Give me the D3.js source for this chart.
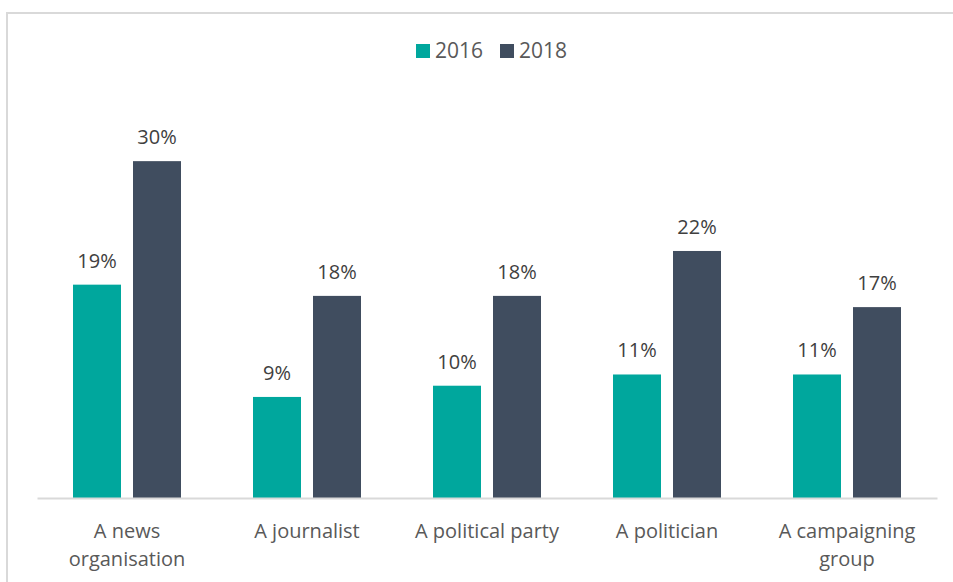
<!DOCTYPE html>
<html>
<head>
<meta charset="utf-8">
<script src="https://cdn.jsdelivr.net/npm/d3@7"></script>
<style>
  html, body { margin: 0; padding: 0; background: #fff; }
  svg { display: block; font-family: "Open Sans", "Liberation Sans", sans-serif; }
</style>
</head>
<body>
<svg id="chart" width="953" height="582"></svg>
<script>
// Chart data
const categories = [["A news", "organisation"], ["A journalist"], ["A political party"], ["A politician"], ["A campaigning", "group"]];
const seriesNames = ["2016", "2018"];
const values2016 = [19, 9, 10, 11, 11];
const values2018 = [30, 18, 18, 22, 17];
const colors = ["#00A79D", "#404D5F"];

const svg = d3.select("#chart");
const W = 953, H = 582;
const margin = { left: 37, right: 16, top: 105, baseline: 498 };

// Outer frame (left and top edges visible)
svg.append("path")
  .attr("d", `M7,${H} L7,13 L${W},13`)
  .attr("fill", "none").attr("stroke", "#d9d9d9").attr("stroke-width", 2);

const x0 = d3.scaleBand()
  .domain(d3.range(categories.length))
  .range([margin.left, W - margin.right]);
const x1 = d3.scaleBand()
  .domain(seriesNames)
  .range([0, x0.bandwidth()])
  .paddingInner(0.2)
  .paddingOuter(0.6);
const y = d3.scaleLinear().domain([0, 35]).range([margin.baseline, margin.top]);

const series = [values2016, values2018];

const groups = svg.append("g").selectAll("g")
  .data(categories.map((c, i) => ({ i, vals: series.map((s, k) => ({ name: seriesNames[k], v: s[i], k })) })))
  .join("g")
  .attr("transform", d => `translate(${x0(d.i)},0)`);

groups.selectAll("rect")
  .data(d => d.vals)
  .join("rect")
  .attr("x", d => x1(d.name))
  .attr("width", x1.bandwidth())
  .attr("y", d => y(d.v))
  .attr("height", d => y(0) - y(d.v))
  .attr("fill", d => colors[d.k]);

groups.selectAll("text.val")
  .data(d => d.vals)
  .join("text")
  .attr("class", "val")
  .attr("x", d => x1(d.name) + x1.bandwidth() / 2)
  .attr("y", d => y(d.v) - 17)
  .attr("text-anchor", "middle")
  .attr("font-size", 20)
  .attr("fill", "#404040")
  .text(d => d.v + "%");

// Baseline axis
const axis = svg.append("g")
  .attr("transform", `translate(0,${margin.baseline})`)
  .call(d3.axisBottom(x0).tickSize(0).tickFormat(""));
axis.select(".domain").attr("stroke", "#d9d9d9").attr("stroke-width", 2);

// Category labels (wrapped onto lines)
const labels = svg.append("g").selectAll("text")
  .data(categories)
  .join("text")
  .attr("text-anchor", "middle")
  .attr("font-size", 20)
  .attr("fill", "#595959")
  .attr("transform", (d, i) => `translate(${x0(i) + x0.bandwidth() / 2},538)`);
labels.selectAll("tspan")
  .data(d => d)
  .join("tspan")
  .attr("x", 0)
  .attr("dy", (d, j) => j === 0 ? 0 : 28)
  .text(d => d);

// Legend
const legend = svg.append("g");
const legendX = [416, 500];
seriesNames.forEach((n, k) => {
  legend.append("rect")
    .attr("x", legendX[k]).attr("y", 44)
    .attr("width", 14).attr("height", 14)
    .attr("fill", colors[k]);
  legend.append("text")
    .attr("x", legendX[k] + 19).attr("y", 58)
    .attr("font-size", 21)
    .attr("fill", "#595959")
    .text(n);
});
</script>
</body>
</html>
